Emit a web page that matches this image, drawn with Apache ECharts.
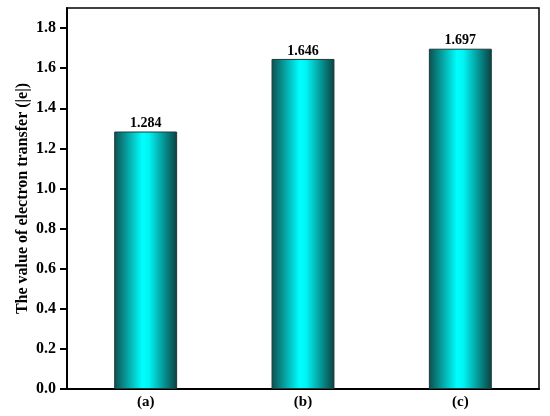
<!DOCTYPE html>
<html>
<head>
<meta charset="utf-8">
<script src="https://cdn.jsdelivr.net/npm/echarts@6/dist/echarts.min.js"></script>
<style>
  html, body { margin: 0; padding: 0; background: #fff; }
  #chart { width: 550px; height: 416px; }
</style>
</head>
<body>
<div id="chart"></div>
<script>
const categories = ["(a)", "(b)", "(c)"];
const values = [1.284, 1.646, 1.697];
const yTicks = [0, 0.2, 0.4, 0.6, 0.8, 1.0, 1.2, 1.4, 1.6, 1.8];

const font = "Liberation Serif";
const chart = echarts.init(document.getElementById("chart"));

const barColor = new echarts.graphic.LinearGradient(0, 0, 1, 0, [
  { offset: 0, color: "#0d4f4f" },
  { offset: 0.45, color: "#00ffff" },
  { offset: 0.55, color: "#00f4f4" },
  { offset: 1, color: "#0a4040" },
]);

chart.setOption({
  animation: false,
  grid: {
    left: 67,
    right: 11,
    top: 8,
    bottom: 27,
    show: true,
    borderColor: "#000",
    borderWidth: 1.5,
  },
  xAxis: {
    type: "category",
    data: categories,
    axisLine: { lineStyle: { color: "#000", width: 2 } },
    axisTick: { show: false },
    axisLabel: {
      color: "#000",
      fontFamily: font,
      fontWeight: "bold",
      fontSize: 15,
      margin: 6,
    },
  },
  yAxis: {
    type: "value",
    min: 0,
    max: 1.9,
    interval: 0.2,
    name: "The value of electron transfer (|e|)",
    nameLocation: "middle",
    nameGap: 36,
    nameMoveOverlap: false,
    nameTextStyle: {
      color: "#000",
      fontFamily: font,
      fontWeight: "bold",
      fontSize: 16,
    },
    splitLine: { show: false },
    axisLine: { show: true, lineStyle: { color: "#000", width: 2 } },
    axisTick: { show: true, length: 7, lineStyle: { color: "#000", width: 2 } },
    axisLabel: {
      color: "#000",
      fontFamily: font,
      fontWeight: "bold",
      fontSize: 16,
      margin: 11,
      showMaxLabel: false,
      formatter: (v) => (yTicks.some((t) => Math.abs(t - v) < 1e-9) ? v.toFixed(1) : ""),
    },
  },
  series: [
    {
      type: "bar",
      data: values,
      barWidth: "40%",
      itemStyle: {
        color: barColor,
        borderColor: "#1e3a3a",
        borderWidth: 1,
      },
      label: {
        show: true,
        position: "top",
        distance: 1,
        color: "#000",
        fontFamily: font,
        fontWeight: "bold",
        fontSize: 14,
        formatter: (p) => p.value.toFixed(3),
      },
    },
  ],
});
</script>
</body>
</html>
